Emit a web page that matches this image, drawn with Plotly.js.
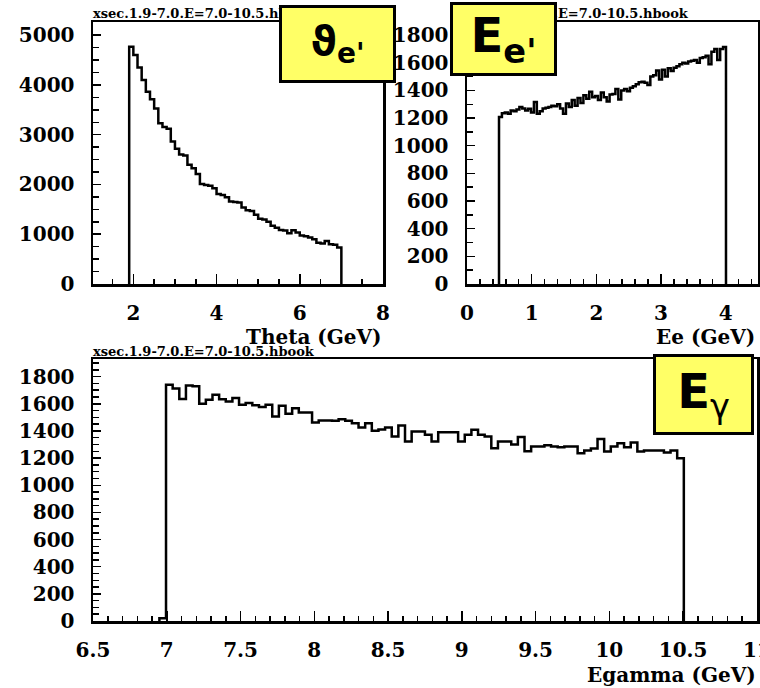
<!DOCTYPE html>
<html>
<head>
<meta charset="utf-8">
<script src="https://cdn.plot.ly/plotly-3.0.1.min.js"></script>
<style>html,body{margin:0;padding:0;background:#fff;}#chart{width:760px;height:688px;}</style>
</head>
<body>
<div id="chart"></div>
<script>
// ---- Data ----
const headerText = "xsec.1.9-7.0.E=7.0-10.5.hbook";

// Theta histogram (bins of 0.1 starting at 1.9)
const thetaLow = 1.9;
const thetaWidth = 0.1;
const thetaValues = [4770, 4600, 4350, 4100, 3865, 3715, 3525, 3230, 3155, 3120,
  2865, 2717, 2600, 2580, 2394, 2327, 2212, 2010, 1990, 1975,
  1923, 1808, 1790, 1741, 1660, 1650, 1640, 1539, 1480, 1465,
  1391, 1310, 1295, 1250, 1170, 1128, 1085, 1075, 1020, 1081,
  1034, 975, 960, 933, 899, 830, 815, 865, 798, 790, 731];
const thetaTitle = "Theta (GeV)";

// Ee histogram (bins of 0.045 starting at 0.495)
const eeLow = 0.495;
const eeWidth = 0.045;
const eeValues = [1207, 1235, 1240, 1232, 1255, 1250, 1262, 1280, 1270, 1255,
  1268, 1240, 1316, 1232, 1250, 1270, 1275, 1280, 1290, 1285,
  1300, 1270, 1232, 1305, 1280, 1330, 1290, 1345, 1310, 1365,
  1340, 1390, 1350, 1360, 1330, 1385, 1350, 1320, 1370, 1375,
  1410, 1335, 1400, 1410, 1395, 1420, 1430, 1445, 1460, 1462,
  1455, 1440, 1500, 1510, 1545, 1480, 1550, 1500, 1560, 1540,
  1565, 1575, 1590, 1600, 1595, 1610, 1615, 1620, 1600, 1635,
  1640, 1650, 1590, 1680, 1700, 1620, 1700, 1715];
const eeTitle = "Ee (GeV)";

// Egamma histogram (bins of 0.045 starting at 6.95)
const egLow = 6.95;
const egWidth = 0.045;
const egValues = [20,
  1740, 1712, 1635, 1735, 1730, 1600, 1630, 1667, 1634, 1617, 1642, 1593, 1605, 1590, 1576, 1593, 1507, 1586, 1526, 1568, 1536, 1536, 1462, 1477, 1477,
  1475, 1487, 1475, 1457, 1425, 1457, 1401, 1410, 1425, 1359, 1440, 1322, 1396, 1396, 1372, 1322, 1391, 1391, 1391, 1322, 1372, 1408, 1372, 1359, 1273, 1322, 1322,
  1300, 1355, 1250, 1285, 1285, 1295, 1285, 1280, 1285, 1285, 1236, 1256, 1270, 1340, 1248, 1285, 1310, 1280, 1315, 1248, 1256, 1256, 1256, 1241, 1256, 1199];
const egTitle = "Egamma (GeV)";

const labelTheta = "<b>ϑ<sub>e'</sub></b>";
const labelEe = "<b>E<sub>e'</sub></b>";
const labelEg = "<b>E</b><sub>γ</sub>";

// ---- Build step outlines from bins ----
function stepTrace(low, width, values, xa, ya) {
  const xs = [low], ys = [0];
  for (let i = 0; i < values.length; i++) {
    xs.push(low + width * i);
    ys.push(values[i]);
  }
  const end = low + width * values.length;
  xs.push(end); ys.push(values[values.length - 1]);
  xs.push(end); ys.push(0);
  return {x: xs, y: ys, type: 'scatter', mode: 'lines', xaxis: xa, yaxis: ya,
    line: {shape: 'hv', color: 'black', width: 2.5}, hoverinfo: 'skip'};
}

const W = 760, H = 688;
const px = v => v / W;
const py = v => 1 - v / H;

const tickFont = {family: 'DejaVu Serif', size: 20, weight: 'bold', color: 'black'};
function axis(extra, minorDtick, len, minorLen) {
  return Object.assign({
    showgrid: false, zeroline: false, showline: true, linecolor: 'black', linewidth: 2.5,
    mirror: true, ticks: 'inside', ticklen: len, tickwidth: 1.5, tickcolor: 'black',
    tickfont: tickFont, fixedrange: true, ticklabeloverflow: 'allow',
    minor: {ticks: 'inside', ticklen: minorLen, tickwidth: 1.5, tickcolor: 'black', dtick: minorDtick, showgrid: false}
  }, extra);
}

const layout = {
  width: W, height: H,
  margin: {l: 0, r: 0, t: 0, b: 0},
  paper_bgcolor: 'white', plot_bgcolor: 'white',
  showlegend: false,
  xaxis: axis({domain: [px(93), px(383)], range: [1.03, 8.001], anchor: 'y', dtick: 2, tick0: 0, ticklabelstandoff: 9}, 0.5, 10, 5),
  yaxis: axis({domain: [py(284), py(22)], range: [0, 5265], anchor: 'x', dtick: 1000, tick0: 0, ticklabelstandoff: 12}, 250, 8, 6),
  xaxis2: axis({domain: [px(467), px(758)], range: [0, 4.5], anchor: 'y2', dtick: 1, tick0: 0, ticklabelstandoff: 9}, 0.2, 10, 5),
  yaxis2: axis({domain: [py(284), py(22)], range: [0, 1895], anchor: 'x2', dtick: 200, tick0: 0, ticklabelstandoff: 12}, 100, 8, 6),
  xaxis3: axis({domain: [px(93), px(757)], range: [6.5, 11.001], anchor: 'y3', dtick: 0.5, tick0: 0, ticklabelstandoff: 9}, 0.1, 10, 5),
  yaxis3: axis({domain: [py(621), py(359)], range: [0, 1930], anchor: 'x3', dtick: 200, tick0: 0, ticklabelstandoff: 12}, 50, 8, 6),
  annotations: []
};

const headFont = {family: 'DejaVu Serif', size: 13, weight: 'bold', color: 'black'};
const titleFont = {family: 'DejaVu Serif', size: 20, weight: 'bold', color: 'black'};
function txt(text, x, y, xanchor, font) {
  return {text: text, x: px(x), y: py(y), xref: 'paper', yref: 'paper', xanchor: xanchor, yanchor: 'middle', showarrow: false, font: font};
}
layout.annotations.push(txt(headerText, 91, 13, 'left', headFont));
layout.annotations.push(txt(headerText, 465, 13, 'left', headFont));
layout.annotations.push(txt(headerText, 91, 351, 'left', headFont));
layout.annotations.push(txt(thetaTitle, 384, 337, 'right', titleFont));
layout.annotations.push(txt(eeTitle, 757, 337, 'right', titleFont));
layout.annotations.push(txt(egTitle, 758, 675, 'right', titleFont));

function box(text, x0, y0, x1, y1, size) {
  return {text: text, x: px(x0), y: py(y0), xref: 'paper', yref: 'paper', xanchor: 'left', yanchor: 'top',
    showarrow: false, width: (x1 - x0) - 3, height: (y1 - y0) - 3, align: 'center', valign: 'middle',
    bgcolor: '#FFFF66', bordercolor: 'black', borderwidth: 3, borderpad: 0,
    font: {family: 'DejaVu Sans', size: size, color: 'black'}};
}
layout.annotations.push(box(labelTheta, 279, 5, 393, 80, 40));
layout.annotations.push(box(labelEe, 450, 2, 554, 73, 48));
layout.annotations.push(box(labelEg, 653, 354, 751, 432, 48));

const data = [
  stepTrace(thetaLow, thetaWidth, thetaValues, 'x', 'y'),
  stepTrace(eeLow, eeWidth, eeValues, 'x2', 'y2'),
  stepTrace(egLow, egWidth, egValues, 'x3', 'y3')
];

Plotly.newPlot('chart', data, layout, {staticPlot: true, displayModeBar: false});
</script>
</body>
</html>
